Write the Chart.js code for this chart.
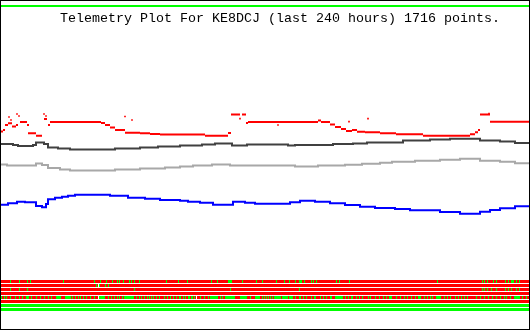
<!DOCTYPE html>
<html>
<head>
<meta charset="utf-8">
<script src="https://cdn.jsdelivr.net/npm/chart.js@4.4.0/dist/chart.umd.min.js"></script>
<style>
  body { margin: 0; background: #fff; }
  #wrap { width: 530px; height: 330px; }
</style>
</head>
<body>
<div id="wrap"><canvas id="telemetryChart" width="530" height="330"></canvas></div>
<script>
// title text
var titleText = 'Telemetry Plot For KE8DCJ (last 240 hours) 1716 points.';

// x = sample column across the 240h window, y = plotted level
var darkLine = [[0,144],[13,145],[18,146],[33,145],[36,142.5],[44,144],[48,147.5],[58,148.5],[70,149.5],[115,148.5],[140,147.5],[158,146.5],[180,145.5],[202,144.5],[215,143.5],[232,145.5],[247,144.5],[288,145.5],[295,145],[333,144],[353,143.5],[367,142.5],[403,140.5],[430,139.5],[450,138.7],[480,140.5],[500,141.5],[515,143],[529,143]];

var lightLine = [[0,164.5],[7,165.5],[36,163.5],[42,165],[48,168],[60,169.5],[70,170.5],[115,169.5],[140,168.5],[165,167.5],[180,166.5],[193,165.5],[212,164.5],[230,165.5],[295,166.5],[318,165.5],[345,164.7],[362,163.7],[380,162.7],[392,161.7],[415,160.7],[440,159.7],[460,158.7],[480,160.7],[500,161.7],[515,163.3],[529,163.3]];

var blueLine = [[0,204.7],[8,203.3],[17,201.7],[25,202.3],[36,206],[42,207.3],[46,204],[48,199.3],[55,197.7],[62,196.7],[68,195.7],[75,194.7],[110,195.7],[128,197.7],[145,198.7],[160,200],[180,200.7],[188,201.7],[200,202.7],[213,204.7],[233,201.7],[245,202.7],[255,203.7],[290,202.3],[300,200.7],[315,201.7],[330,203.3],[345,205],[360,206.7],[375,208],[395,209],[410,210.3],[440,212],[460,213.7],[480,211.7],[490,210],[500,208.3],[515,206.3],[529,206.3]];

// red runs: [from, to, level]
var redRuns = [[1,3,131.5],[3,5,130],[5,8,125],[8,12,123.3],[12,16,126.5],[16,18,125],[20,27,122],[27,29,125],[28,36,133.3],[36,42,135.7],[44,47,119],[48,50,125],[50,101,122],[101,105,123],[105,110,125],[110,115,127.5],[115,125,130],[125,140,132.7],[140,150,133.3],[150,160,134],[160,205,134.5],[205,228,135.7],[228,231,133],[231,240,114.5],[242,246,114.5],[246,248,123],[248,318,122],[318,321,120.5],[321,330,122],[330,335,124.5],[335,341,127],[341,346,129],[346,352,131],[352,357,130],[357,365,131.7],[365,380,132.3],[380,396,133.3],[396,423,134.3],[423,470,135.7],[470,475,134.3],[475,478,132.3],[478,480,130],[480,490,114.5],[490,529,121.7]];
var redDots = [[9,117],[11,120],[17,114],[19,116],[44,114],[46,116],[125,116.5],[132,120],[240,118.7],[278,125],[349,121.7],[368,118.7],[489,113.5]];

// status bit rows: columns where the bit is on (green), [from, to]
var bitRow1 = [10,19,27,30,63,94,100,106,112,117,119,123,129,131,134,139,166,178,187,211,217,[228,231],242,256,262,276,284,289,295,[299,301],304,311,313,316,336,339,349,437,482,484,487,493,496,505,508,[511,513],516,519];
var bitRow2 = [96,99,105,108];
var bitRow3 = [10,19,27,134,230,299,482,484,487,491,496,505,508,511,516,519];
var bitRow4 = [];
var bitRow5 = [1,4,6,10,15,19,22,[26,28],31,36,40,44,48,51,[56,60],[65,70],72,75,78,80,83,86,90,94,[99,104],108,111,114,117,119,122,[124,133],136,139,141,144,147,149,151,153,156,159,164,167,170,173,176,179,180,183,185,[188,189],[191,192],194,196,200,204,208,[210,216],217,220,222,[225,234],[240,246],250,[255,259],262,264,266,268,270,272,[274,280],[282,287],[289,292],295,[299,300],303,306,311,[314,315],320,323,326,[330,331],[335,342],345,348,[351,352],356,359,362,368,370,375,379,383,386,[389,391],396,400,404,407,411,415,[418,420],424,427,430,432,[436,440],444,447,450,455,458,461,464,467,476,480,484,488,492,496,500,504,506,510,[514,519],522,526];
var bitRow6 = [];
var bitRow7 = [[1,529]];
var bitRow8 = [[1,529]];
var bitRows = [bitRow1, bitRow2, bitRow3, bitRow4, bitRow5, bitRow6, bitRow7, bitRow8];
var bitLevels = [281.5, 285.5, 289.5, 293.5, 297.5, 301.5, 305.5, 309.5];

function toPoints(arr) {
    return arr.map(p => ({x: p[0], y: p[1]}));
}

function isOn(row, col) {
    return row.some(r => Array.isArray(r) ? (col >= r[0] && col < r[1] + 1) : (col >= r && col < r + 1));
}

// red runs joined with gaps between them
var redData = [];
redRuns.forEach(r => {
    redData.push({x: r[0], y: r[2]});
    redData.push({x: r[1], y: r[2]});
    redData.push({x: r[1], y: null});
});

var datasets = [
    { data: toPoints(darkLine), borderColor: '#404040', borderWidth: 2, stepped: true },
    { data: toPoints(lightLine), borderColor: '#a8a8a8', borderWidth: 2, stepped: true },
    { data: toPoints(blueLine), borderColor: '#0000ff', borderWidth: 2, stepped: true },
    { data: redData, borderColor: '#ff0000', borderWidth: 2, spanGaps: false },
    { data: toPoints(redDots), showLine: false, pointRadius: 1.2, pointStyle: 'rect',
      backgroundColor: '#ff0000', borderWidth: 0 }
];

bitRows.forEach((row, i) => {
    var pts = [];
    for (var c = 1; c <= 529; c++) pts.push({x: c, y: bitLevels[i]});
    datasets.push({
        data: pts,
        borderWidth: 3,
        borderColor: '#ff0000',
        segment: {
            borderColor: ctx => isOn(row, ctx.p0.parsed.x) ? '#00ff00' : '#ff0000'
        }
    });
});

datasets.forEach(d => {
    d.showLine = d.showLine !== false;
    if (d.pointRadius === undefined) d.pointRadius = 0;
    d.fill = false;
    d.borderCapStyle = 'butt';
});

var frame = {
    id: 'frame',
    afterDraw(chart) {
        var ctx = chart.ctx;
        ctx.save();
        ctx.fillStyle = '#00ff00';
        ctx.fillRect(1, 5, 528, 2);
        ctx.fillStyle = '#000';
        ctx.font = '13.33px "Liberation Mono"';
        ctx.textBaseline = 'alphabetic';
        ctx.fillText(titleText, 60, 22);
        ctx.strokeStyle = '#000';
        ctx.lineWidth = 1;
        ctx.strokeRect(0.5, 0.5, 529, 329);
        ctx.restore();
    }
};

new Chart(document.getElementById('telemetryChart'), {
    type: 'scatter',
    data: { datasets: datasets },
    options: {
        responsive: false,
        animation: false,
        devicePixelRatio: 1,
        layout: { padding: 0, autoPadding: false },
        plugins: { legend: { display: false }, tooltip: { enabled: false } },
        scales: {
            x: { type: 'linear', min: 0, max: 530, display: false },
            y: { min: 0, max: 330, reverse: true, display: false }
        }
    },
    plugins: [frame]
});
</script>
</body>
</html>
